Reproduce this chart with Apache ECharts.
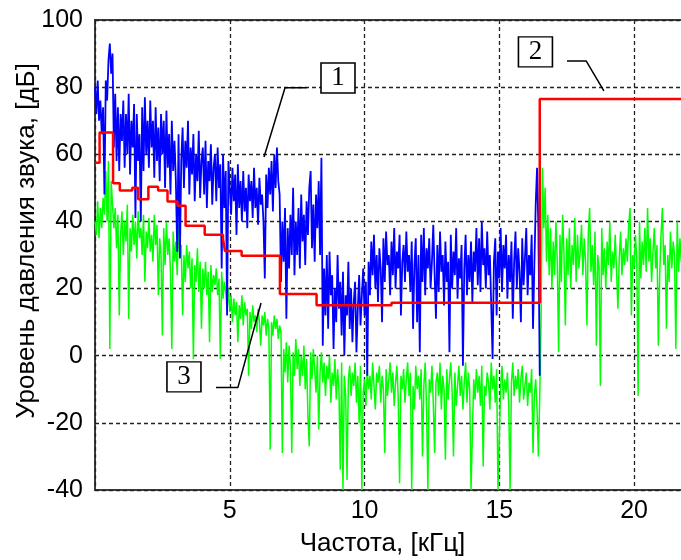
<!DOCTYPE html>
<html>
<head>
<meta charset="utf-8">
<script src="https://cdn.jsdelivr.net/npm/echarts@6/dist/echarts.min.js"></script>
<style>
html,body{margin:0;padding:0;background:#fff;}
#chart{width:681px;height:560px;}
</style>
</head>
<body>
<div id="chart"></div>
<script>
// Sampling step of the spectra, kHz
const freqStep = 0.05;

// Curve 1 (blue): sound pressure level, dB, sampled every freqStep from 0 kHz
const blueLevels = [
  80, 72, 82, 70, 76, 66, 74, 48, 82, 76,
  88, 93, 84, 90, 62, 78, 58, 74, 55, 72,
  64, 76, 56, 72, 60, 78, 54, 70, 62, 75,
  41, 72, 58, 66, 40, 74, 55, 77, 60, 70,
  56, 76, 62, 70, 53, 74, 58, 68, 52, 72,
  60, 70, 50, 73, 56, 66, 48, 70, 55, 64,
  52, 31, 66, 29, 58, 68, 50, 64, 56, 70,
  48, 62, 54, 66, 46, 60, 52, 67, 47, 58,
  62, 48, 64, 44, 58, 52, 63, 45, 56, 60,
  46, 62, 50, 57, 26, 60, 44, 55, 12, 58,
  50, 42, 56, 46, 54, 36, 57, 44, 52, 40,
  55, 43, 50, 38, 54, 46, 52, 41, 56, 44,
  50, 39, 53, 45, 48, 40, 23, 54, 44, 56,
  48, 58, 43, 60, 50, 62, 52,
  48, 22, 40, 28, 44, 11, 38, 26, 42, 30, 50, 24, 40,
  30, 44, 26, 48, 34, 42, 27, 46, 36, 50, 55, 32, 45, 28, 48, 38, 52, 30, 59,
  3, 26, 12, 30, 8, 31, 18, 24, 2, 20, 10, 30, 14, 22, 6, 25,
  0, 18, 12, 28, 8, 20, 4, 16, 22, 1, 14, 24, 9, 18, 26,
  12, 22, -6, 28, 18, 34, 24, 36, 20, 30,
  16, 32, 26, 10, 35, 22, 37, 27, 30, 18,
  34, 24, 38, 20, 31, 26, 36, 12, 28, 33,
  22, 37, 25, 30, 19, 34, 8, 27, 35, 10,
  30, 1, 36, 22, 38, 18, 32, 26, 35, 20,
  28, 39, 24, 11, 33, 19, 37, 25, 30, 15,
  34, 22, 28, 1, 36, 20, 31, 24, 38, 17,
  29, 23, 33, -3, 26, 36, 18, 30, 22, 34,
  16, 31, 25, 38, 21, 35, 19, 40, 27, 32,
  20, 37, 24, 30, 15, -1, 28, 35, 12, 31,
  23, 38, 19, 33, 26, 36, 17, 30, 22, 34,
  11, 28, 37, 20, 32, 25, 10, 35, 21, 29,
  38, 18, 30, 24, 36, 8, 27,
  45, 56, 38, -6
];

// Curve 3 (green): sound pressure level, dB, sampled every freqStep from 0 kHz
const greenLevels = [
  40, 36, 46, 35, 44, 38, 47, 42, 55, 40,
  58, 2, 52, 45, 38, 44, 32, 42, 12, 36,
  43, 30, 40, 34, 45, 11, 38, 31, 42, 33,
  40, 29, 43, 35, 38, 30, 42, 22, 37, 32,
  41, 31, 36, 28, 42, 33, 39, 18, 35, 30,
  6, 38, 27, 40, 30, 35, 25, 2, 37, 28,
  34, 24, 39, 29, 33, 12, 30, 22, 33, 26,
  31, 20, 29, -1, 27, 22, 32, 19, 28, 8,
  26, 20, 28, 18, 25, 4, 27, 19, 24, 21,
  26, 18, 23, -1, 25, 17, 22, 19, 14, 20,
  13, 18, 10, 17, 12, 16, 4, 15, 11, 18,
  9, 16, 12, 14, -6, 13, 8, 15, 10, 12,
  7, 14, 10, 3, 12, 9, 13, 6, 11, 8,
  -28, 10, 6, 12, 8, 11, 5, 9, 7, -29,
  2, -5, 4, -8, 3, -3, -29, 1, -6, 5,
  -4, 2, -9, 0, -6, 3, -10, -1, -18, -27,
  1, -7, 2, -4, -11, 0, -22, -5, 1, -8,
  -2, -12, -3, -7, 0, -14, -5, -9, -1, -13,
  -4, -10, -34, -2, -40, -6, -12, -37, -7, -3,
  -12, -5, -9, -2, -14, -6, -20, -3, -40, -11,
  -7, -15, -4, -10, -6, -13, -2, -9, -16, -5,
  -8, -3, -14, -6, -10, -29, -4, -12, -7, -2,
  -11, -5, -15, -8, -3, -13, -38, -6, -10, -4,
  -14, -7, -2, -12, -5, -40, -9, -16, -3, -10,
  -6, -13, -4, -30, -9, -2, -15, -40, -7, -11,
  -3, -14, -29, -8, -5, -12, -2, -16, -6, -10,
  -31, -4, -13, -7, -2, -11, -30, -5, -15, -9,
  -3, -12, -6, -16, -8, -2, -14, -5, -10, -40,
  -40, -7, -13, -4, -11, -6, -15, -3, -33, -9,
  -12, -5, -8, -16, -2, -10, -6, -14, -4, -40,
  -40, -9, -3, -13, -7, -11, -5, -15, -40, -8,
  -2, -12, -6, -10, -4, -14, -7, -3, -13, -9,
  -5, -15, -8, -11, -4, -29, -12, -7, -16, -30,
  -12, 12, 56, 38, 50, 28, 42, 24, 38, 20,
  34, 24, 40, 28, 1, 36, 22, 42, 30, 9,
  35, 24, 38, 20, 33, 27, 41, 22, 36, 26,
  31, 39, 24, 35, 28, 9, 36, 44, 25, 33,
  21, 37, 3, 30, 26, -9, 38, 24, 32, 20,
  34, 27, 40, 22, 31, 26, 36, 25, 14, 29,
  37, 24, 32, 27, 35, 28, 39, 44, 12, 30,
  26, 36, 29, -12, 40, 23, 34, 27, 38, 25,
  44, 28, 35, 22, 31, 38, 26, 33, 3, 24,
  36, 44, 27, 33, 8, 30, 22, 37, 26, 34,
  30, 2, 40, 25, 35, 28, 38
];

// Curve 2 (red): stepped limit, kHz edges and dB level of each step
const redEdges  = [0, 0.17, 0.67, 0.92, 1.38, 1.6, 1.98, 2.34, 2.69, 3.06, 3.36, 4.07, 4.75, 4.82, 5.44, 6.86, 8.22, 11.0, 16.5, 22];
const redLevels = [57.5, 66.5, 51.4, 49.2, 50, 46.6, 50.3, 49.2, 45.9, 44.7, 38.7, 36, 34.8, 31.2, 29.8, 18.4, 15.0, 15.8, 76.5];

// Axis setup
const xMin = 0, xMax = 22, xStep = 5;
const yMin = -40, yMax = 100, yStep = 20;

// Callout labels: box centre and leader-line points, in data coordinates
const calloutNames = ['1', '2', '3'];
const calloutBoxes = [[9.015, 82.7], [16.34, 90.5], [3.30, -6.3]];
const calloutLeaders = [
  [[7.85, 79.8], [7.05, 79.8], [6.27, 59.2]],
  [[17.51, 87.8], [18.22, 87.8], [18.88, 78.9]],
  [[4.49, -9.5], [5.30, -9.5], [6.16, 15.7]]
];

const toPairs = arr => arr.map((v, i) => [+(i * freqStep).toFixed(3), v]);
const redData = [];
for (let i = 0; i < redLevels.length; i++) {
  redData.push([redEdges[i], redLevels[i]]);
  redData.push([redEdges[i + 1], redLevels[i]]);
}

const font = 'Liberation Sans, Arial, sans-serif';
const chart = echarts.init(document.getElementById('chart'), null, {renderer: 'canvas'});

const leaderSeries = calloutLeaders.map(pts => ({
  type: 'line', data: pts, symbol: 'none', silent: true, animation: false,
  lineStyle: {color: '#000', width: 1.5}, z: 5
}));

chart.setOption({
  animation: false,
  backgroundColor: '#fff',
  grid: {left: 95, top: 20, right: -7, bottom: 70, containLabel: false, outerBoundsMode: 'none',
         show: true, borderColor: '#3c3c3c', borderWidth: 2, backgroundColor: 'transparent'},
  xAxis: {
    type: 'value', min: xMin, max: xMax, interval: xStep,
    name: 'Частота, [кГц]', nameLocation: 'middle', nameGap: 41,
    nameTextStyle: {fontFamily: font, fontSize: 26, color: '#000', padding: [0, 18, 0, 0]},
    axisLine: {show: false}, axisTick: {show: false},
    axisLabel: {showMinLabel: false, showMaxLabel: false, fontFamily: font, fontSize: 25, color: '#000', margin: 9},
    splitLine: {show: true, lineStyle: {color: '#222', type: [4, 3], width: 1.3}}
  },
  yAxis: {
    type: 'value', min: yMin, max: yMax, interval: yStep,
    name: 'Уровень давления звука, [дБ]', nameLocation: 'middle', nameGap: 55, nameRotate: 90,
    nameMoveOverlap: false,
    nameTextStyle: {fontFamily: font, fontSize: 26, color: '#000', padding: [0, 0, 0, 28]},
    axisLine: {show: false}, axisTick: {show: false},
    axisLabel: {fontFamily: font, fontSize: 25, color: '#000', margin: 12},
    splitLine: {show: true, lineStyle: {color: '#222', type: [4, 3], width: 1.3}}
  },
  series: [
    {type: 'line', name: '3', data: toPairs(greenLevels), symbol: 'none', lineStyle: {color: '#00ff00', width: 1.5}, z: 2},
    {type: 'line', name: '1', data: toPairs(blueLevels), symbol: 'none', lineStyle: {color: '#0000ff', width: 1.8}, z: 3},
    {type: 'line', name: '2', data: redData, symbol: 'none', lineStyle: {color: '#ff0000', width: 2.5}, z: 4},
    ...leaderSeries,
    {
      type: 'scatter', data: calloutBoxes.map((p, i) => ({value: p, name: calloutNames[i]})),
      symbol: 'rect', symbolSize: [34, 30], silent: true, z: 6,
      itemStyle: {color: '#fff', borderColor: '#000', borderWidth: 1.5, opacity: 1},
      label: {show: true, position: 'inside', formatter: p => p.name, fontFamily: 'Liberation Serif, Times New Roman, serif', fontSize: 27, color: '#000'}
    }
  ]
});
</script>
</body>
</html>
